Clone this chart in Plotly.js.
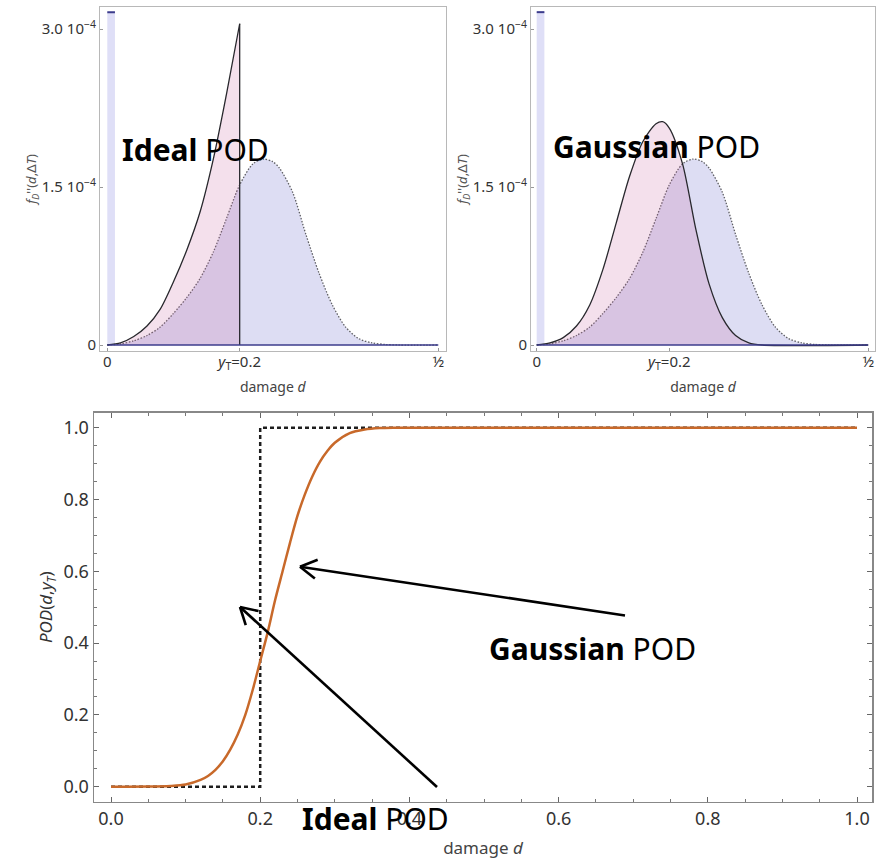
<!DOCTYPE html>
<html>
<head>
<meta charset="utf-8">
<script src="https://cdn.plot.ly/plotly-3.0.1.min.js"></script>
<style>html,body{margin:0;padding:0;background:#fff}#chart{width:876px;height:859px}</style>
</head>
<body>
<div id="chart"></div>
<script>
// ---- data (densities in units of 1e-4) ----
const priorD = [0, 0.02, 0.04, 0.06, 0.08, 0.10, 0.12, 0.14, 0.16, 0.18, 0.20, 0.22, 0.236, 0.25, 0.26, 0.28, 0.30, 0.32, 0.34, 0.36, 0.38, 0.40, 0.42, 0.44, 0.50];
const priorF = [0, 0.01, 0.04, 0.09, 0.17, 0.30, 0.45, 0.63, 0.88, 1.20, 1.52, 1.72, 1.765, 1.74, 1.68, 1.45, 1.05, 0.68, 0.38, 0.17, 0.06, 0.02, 0.005, 0, 0];
const idealD = [0, 0.02, 0.04, 0.06, 0.08, 0.10, 0.12, 0.14, 0.16, 0.18, 0.20];
const idealF = [0, 0.02, 0.08, 0.18, 0.34, 0.60, 0.90, 1.26, 1.76, 2.38, 3.05];
const idealDropD = [0.20, 0.20];
const idealDropF = [3.05, 0];
const gaussD = [0, 0.02, 0.04, 0.06, 0.08, 0.10, 0.12, 0.14, 0.16, 0.18, 0.19, 0.20, 0.22, 0.24, 0.26, 0.28, 0.30, 0.32, 0.34, 0.50];
const gaussF = [0, 0.02, 0.07, 0.18, 0.38, 0.72, 1.16, 1.60, 1.93, 2.10, 2.12, 2.06, 1.72, 1.10, 0.58, 0.26, 0.09, 0.02, 0, 0];
const spikeD = [0, 0.0116];
const spikeF = [3.16, 3.16];
const baseD = [0, 0.5];
const baseF = [0, 0];
const densityTickVals = [0, 1.5, 3.0];
const densityTickText = ['0', '1.5 10<sup>\u22124</sup>', '3.0 10<sup>\u22124</sup>'];
const densityXTickVals = [0, 0.2, 0.5];
const densityXTickText = ['0', '<i>y</i><sub>T</sub>=0.2', '\u00BD'];
// ---- POD curves ----
const podD = [0, 0.05, 0.08, 0.10, 0.12, 0.13, 0.14, 0.15, 0.16, 0.17, 0.18, 0.19, 0.20, 0.21, 0.22, 0.23, 0.24, 0.25, 0.26, 0.27, 0.28, 0.29, 0.30, 0.32, 0.34, 0.36, 0.38, 0.40, 1.0];
const podGauss = [0, 0.0002, 0.002, 0.006, 0.019, 0.030, 0.047, 0.071, 0.104, 0.146, 0.20, 0.27, 0.35, 0.43, 0.52, 0.60, 0.68, 0.755, 0.815, 0.865, 0.905, 0.935, 0.958, 0.985, 0.995, 0.999, 1.0, 1.0, 1.0];
const podIdealD = [0, 0.2, 0.2, 1.0];
const podIdealV = [0, 0, 1, 1];

const E4 = 1e-4;
const sc = a => a.map(v => v * E4);

const W = 876, H = 859;
const px = x => x / W, py = y => 1 - y / H;

const blueFill = 'rgba(100,100,200,0.22)';
const pinkFill = 'rgba(200,100,160,0.20)';
const dotted = {color: 'rgb(95,95,100)', width: 1.3, dash: '1.5px,1.6px', shape: 'spline', smoothing: 0.8};
const blackLine = {color: 'rgb(40,40,45)', width: 1.3, shape: 'spline', smoothing: 0.8};
const navy = 'rgb(60,60,140)';

function densityTraces(xa, ya, postD, postF, extra) {
  const t = [
    {x: spikeD, y: sc(spikeF), xaxis: xa, yaxis: ya, type: 'scatter', mode: 'lines', fill: 'tozeroy',
     fillcolor: 'rgba(110,110,220,0.22)', line: {color: navy, width: 2}, hoverinfo: 'skip'},
    {x: priorD, y: sc(priorF), xaxis: xa, yaxis: ya, type: 'scatter', mode: 'lines', fill: 'tozeroy',
     fillcolor: blueFill, line: dotted, hoverinfo: 'skip'},
    {x: postD, y: sc(postF), xaxis: xa, yaxis: ya, type: 'scatter', mode: 'lines', fill: 'tozeroy',
     fillcolor: pinkFill, line: blackLine, hoverinfo: 'skip'}
  ];
  if (extra) t.push({x: extra[0], y: sc(extra[1]), xaxis: xa, yaxis: ya, type: 'scatter', mode: 'lines',
     line: {color: 'rgb(40,40,45)', width: 1.3}, hoverinfo: 'skip'});
  t.push({x: baseD, y: baseF, xaxis: xa, yaxis: ya, type: 'scatter', mode: 'lines',
     line: {color: navy, width: 1.6}, hoverinfo: 'skip'});
  return t;
}

const traces = [
  ...densityTraces('x', 'y', idealD, idealF, [idealDropD, idealDropF]),
  ...densityTraces('x2', 'y2', gaussD, gaussF),
  {x: podIdealD, y: podIdealV, xaxis: 'x3', yaxis: 'y3', type: 'scatter', mode: 'lines',
   line: {color: 'rgb(30,30,30)', width: 2.5, dash: '4px,3px'}, hoverinfo: 'skip'},
  {x: podD, y: podGauss, xaxis: 'x3', yaxis: 'y3', type: 'scatter', mode: 'lines',
   line: {color: '#c8692a', width: 2.5, shape: 'spline', smoothing: 0.8}, hoverinfo: 'skip'}
];

const baseFont = 'Noto Sans, sans-serif';
function topX(dom, rng) {
  return {domain: dom, range: rng, tickmode: 'array', tickvals: densityXTickVals, ticktext: densityXTickText,
    ticks: 'inside', ticklen: 3, tickcolor: '#999', showline: true, mirror: true, linecolor: '#b8b8b8', linewidth: 1,
    showgrid: false, zeroline: false, automargin: false, tickfont: {size: 15, color: '#333'}, ticklabelstandoff: -3,
    title: {text: 'damage <i>d</i>', font: {size: 14, color: '#444'}, standoff: 10}};
}
function topY(rng) {
  return {domain: [py(351), py(7)], range: rng, tickmode: 'array', tickvals: sc(densityTickVals), ticktext: densityTickText,
    ticks: 'inside', ticklen: 3, tickcolor: '#999', showline: true, mirror: true, linecolor: '#b8b8b8', linewidth: 1,
    showgrid: false, zeroline: false, automargin: false, tickfont: {size: 15, color: '#333'},
    title: {text: '<i>f</i><sub><i>D</i></sub>\'\'(<i>d</i>,\u0394<i>T</i>)', font: {size: 13, color: '#555'}, standoff: 1}};
}
const topYRange = [-0.057 * E4, 3.209 * E4];

// arrows (head / tail in page pixels), drawn as line shapes with open heads
const arrows = [
  {head: [300, 566.7], tail: [625, 615.5]},
  {head: [240, 607], tail: [437, 787]}
];
const shapes = [];
arrows.forEach(a => {
  const dx = a.tail[0] - a.head[0], dy = a.tail[1] - a.head[1];
  const L = Math.hypot(dx, dy), ux = dx / L, uy = dy / L;
  const seg = (x0, y0, x1, y1) => shapes.push({type: 'line', xref: 'paper', yref: 'paper',
    x0: px(x0), y0: py(y0), x1: px(x1), y1: py(y1), line: {color: '#000', width: 2.6}});
  seg(a.head[0], a.head[1], a.tail[0], a.tail[1]);
  [-30, 30].forEach(deg => {
    const r = deg * Math.PI / 180, len = 19;
    const vx = ux * Math.cos(r) - uy * Math.sin(r), vy = ux * Math.sin(r) + uy * Math.cos(r);
    seg(a.head[0], a.head[1], a.head[0] + vx * len, a.head[1] + vy * len);
  });
});
const annotations = [];
const labels = [
  {x: 120, y: 149, t: '<b>Ideal</b> POD'},
  {x: 551, y: 146, t: '<b>Gaussian</b> POD'},
  {x: 487, y: 648, t: '<b>Gaussian</b> POD'},
  {x: 300, y: 818, t: '<b>Ideal</b> POD'}
];
labels.forEach(l => annotations.push({xref: 'paper', yref: 'paper', x: px(l.x), y: py(l.y), xanchor: 'left', yanchor: 'middle',
  text: l.t, showarrow: false, font: {size: 30, color: '#000', family: baseFont}}));

const layout = {
  width: W, height: H, margin: {l: 0, r: 0, t: 0, b: 0}, paper_bgcolor: '#fff', plot_bgcolor: '#fff',
  showlegend: false, font: {family: baseFont, color: '#333'},
  xaxis: topX([px(100), px(445.5)], [-0.011, 0.5109]),
  yaxis: Object.assign(topY(topYRange), {anchor: 'x'}),
  xaxis2: Object.assign(topX([px(531), px(875)], [-0.0086, 0.5103]), {anchor: 'y2'}),
  yaxis2: Object.assign(topY(topYRange), {anchor: 'x2'}),
  xaxis3: {domain: [px(94), px(872)], range: [-0.0228, 1.0201], anchor: 'y3', dtick: 0.2, tick0: 0, tickformat: '.1f',
    ticks: 'inside', ticklen: 5, tickcolor: '#666', minor: {dtick: 0.05, ticks: 'inside', ticklen: 3, tickcolor: '#777'},
    showline: true, mirror: 'allticks', linecolor: '#888', linewidth: 1.5, showgrid: false, zeroline: false, automargin: false,
    tickfont: {size: 18, color: '#333'}, title: {text: 'damage <i>d</i>', font: {size: 17, color: '#444'}, standoff: 14}},
  yaxis3: {domain: [py(801.7), py(412.7)], range: [-0.0418, 1.0418], anchor: 'x3', dtick: 0.2, tick0: 0, tickformat: '.1f',
    ticks: 'inside', ticklen: 5, tickcolor: '#666', minor: {dtick: 0.05, ticks: 'inside', ticklen: 3, tickcolor: '#777'},
    showline: true, mirror: 'allticks', linecolor: '#888', linewidth: 1.5, showgrid: false, zeroline: false, automargin: false,
    tickfont: {size: 18, color: '#333'},
    title: {text: '<i>POD</i>(<i>d</i>,<i>y</i><sub><i>T</i></sub>)', font: {size: 17, color: '#333'}, standoff: 6}},
  shapes: shapes,
  annotations: annotations
};

Plotly.newPlot('chart', traces, layout, {staticPlot: true, displayModeBar: false});
</script>
</body>
</html>
